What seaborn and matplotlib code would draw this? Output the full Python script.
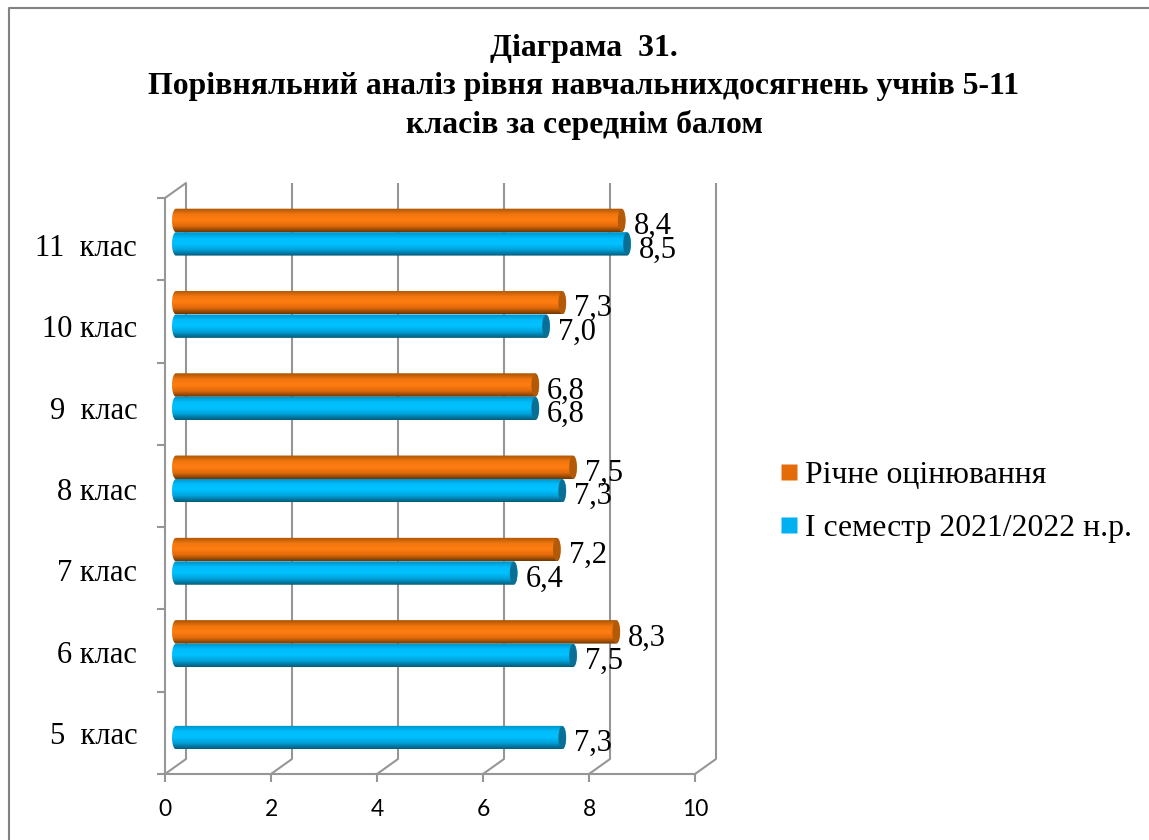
import numpy as np
import pandas as pd
import matplotlib
matplotlib.use("Agg")
import matplotlib.pyplot as plt
import matplotlib.transforms as mtransforms
from matplotlib.colors import LinearSegmentedColormap
from matplotlib.lines import Line2D
from matplotlib.patches import Ellipse, Polygon
import seaborn as sns

# Дані
classes = ["11  клас", "10 клас", "9  клас", "8 клас", "7 клас", "6 клас", "5  клас"]
annual = [8.4, 7.3, 6.8, 7.5, 7.2, 8.3, np.nan]
semester = [8.5, 7.0, 6.8, 7.3, 6.4, 7.5, 7.3]
series_names = ["Річне оцінювання", "І семестр 2021/2022 н.р."]
x_ticks = [0, 2, 4, 6, 8, 10]
title = "Діаграма  31.\nПорівняльний аналіз рівня навчальнихдосягнень учнів 5-11\nкласів за середнім балом"

W, H = 1149, 840
GRAY = "#969696"
SERIF = "Liberation Serif"

df = pd.DataFrame({
    "клас": classes * 2,
    "бал": annual + semester,
    "серія": [series_names[0]] * 7 + [series_names[1]] * 7,
})

sns.set_theme(style="white")
fig = plt.figure(figsize=(W / 100, H / 100), dpi=100)


def px_axes(left, top, right, bottom):
    return fig.add_axes([left / W, 1 - bottom / H, (right - left) / W, (bottom - top) / H])


# рамка
frame = px_axes(165, 198, 695, 774)
frame.set_xlim(0, 10)
frame.set_ylim(7, 0)
frame.patch.set_alpha(0)
for side in ["top", "right"]:
    frame.spines[side].set_visible(False)
for side in ["left", "bottom"]:
    frame.spines[side].set_color(GRAY)
    frame.spines[side].set_linewidth(1.5)
frame.set_xticks(x_ticks)
frame.set_yticks(np.arange(8))
frame.set_yticklabels([])
# підписи класів трохи зсунуті вниз, як в оригіналі
frame.set_yticks(np.linspace(0.57, 6.5, 7), classes, minor=True, fontfamily=SERIF, fontsize=22, color="black")
frame.tick_params(axis="y", which="major", left=True, length=6, width=1.5, color=GRAY)
frame.tick_params(axis="y", which="minor", left=False, length=0, pad=20)
frame.tick_params(axis="x", bottom=True, length=6, width=1.5, color=GRAY, labelsize=16.5, pad=12,
                  labelcolor="black", labelfontfamily="Lato")

# задня стінка і діагоналі
back = mtransforms.offset_copy(frame.transData, fig=fig, x=21 * 0.72, y=15 * 0.72, units="points")
dx = 21 / 53
dy = 15 / (576 / 7)
for t in x_ticks:
    frame.plot([t, t], [7, 0], color=GRAY, lw=1.5, transform=back, clip_on=False, solid_capstyle="butt")
    frame.plot([t, t + dx], [7, 7 - dy], color=GRAY, lw=1.5, clip_on=False)
frame.plot([0, dx], [0, -dy], color=GRAY, lw=1.5, clip_on=False)
frame.set_xlim(0, 10)
frame.set_ylim(7, 0)

# стовпчики
ax = px_axes(172, 191, 712, 767)
ax.patch.set_alpha(0)
sns.barplot(data=df, y="клас", x="бал", hue="серія", order=classes, hue_order=series_names,
            palette=["#E36C09", "#00B0F0"], saturation=1, width=0.57, gap=0, dodge=True, ax=ax, legend=False)
ax.set_xlim(0, 10)
ax.set_ylim(6.5, -0.5)
ax.axis("off")

shades = [
    LinearSegmentedColormap.from_list("o", ["#a85406", "#f0760e", "#ff7d12", "#e06a0a", "#6e3703"]),
    LinearSegmentedColormap.from_list("b", ["#0090c4", "#00bcfa", "#00c2ff", "#00a0d8", "#055a78"]),
]
cap_colors = ["#b25a08", "#0a6f94"]
grad = np.linspace(0, 1, 64).reshape(-1, 1)
rx = 4 / 54
theta = np.linspace(0, np.pi, 30)

for cont, cmap, cap in zip(ax.containers, shades, cap_colors):
    for bar in cont:
        val = bar.get_width()
        if not np.isfinite(val) or val == 0:
            continue
        y0, h = bar.get_y(), bar.get_height()
        yc = y0 + h / 2
        bar.set_visible(False)
        img = ax.imshow(grad, cmap=cmap, aspect="auto", origin="upper",
                        extent=(0, val, y0 + h, y0), zorder=3, interpolation="bilinear")
        # контур циліндра: заокруглення зліва
        right = np.c_[val - rx + rx * np.sin(theta), yc - h / 2 * np.cos(theta)]
        left = np.c_[rx - rx * np.sin(theta), yc + h / 2 * np.cos(theta)]
        shape = Polygon(np.r_[right, left], closed=True, transform=ax.transData, fc="none", ec="none")
        ax.add_patch(shape)
        img.set_clip_path(shape)
        ax.add_patch(Ellipse((val - rx, yc), 2 * rx * 0.95, h * 0.96, fc=cap, ec="none", zorder=4))
        ax.annotate(f"{val:.1f}".replace(".", ","), (val, yc), xytext=(8 * 0.72, -6 * 0.72),
                    textcoords="offset points", ha="left", va="center", fontfamily=SERIF,
                    fontsize=22, color="black", zorder=5, annotation_clip=False)
ax.set_xlim(0, 10)
ax.set_ylim(6.5, -0.5)

# легенда
handles = [Line2D([], [], ls="none", marker="s", ms=11.5, mfc=c, mec="none") for c in ["#E36C09", "#00B0F0"]]
fig.legend(handles, series_names, loc="center left", bbox_to_anchor=(773 / W, 1 - 502 / H), frameon=False,
           prop={"family": SERIF, "size": 22.9}, labelspacing=0.75, handletextpad=0, handlelength=1.0,
           borderpad=0, borderaxespad=0, labelcolor="black")

fig.text(584 / W, 1 - 87 / H, title, ha="center", va="center", fontfamily=SERIF, fontweight="bold",
         fontsize=22.9, linespacing=1.38, color="black")

# зовнішня рамка
fig.add_artist(Line2D([9 / W, 9 / W, 1 / 1], [0, 1 - 8 / H, 1 - 8 / H], color="#828282", lw=1.5))

fig.savefig("out.png", dpi=100, facecolor="white")
